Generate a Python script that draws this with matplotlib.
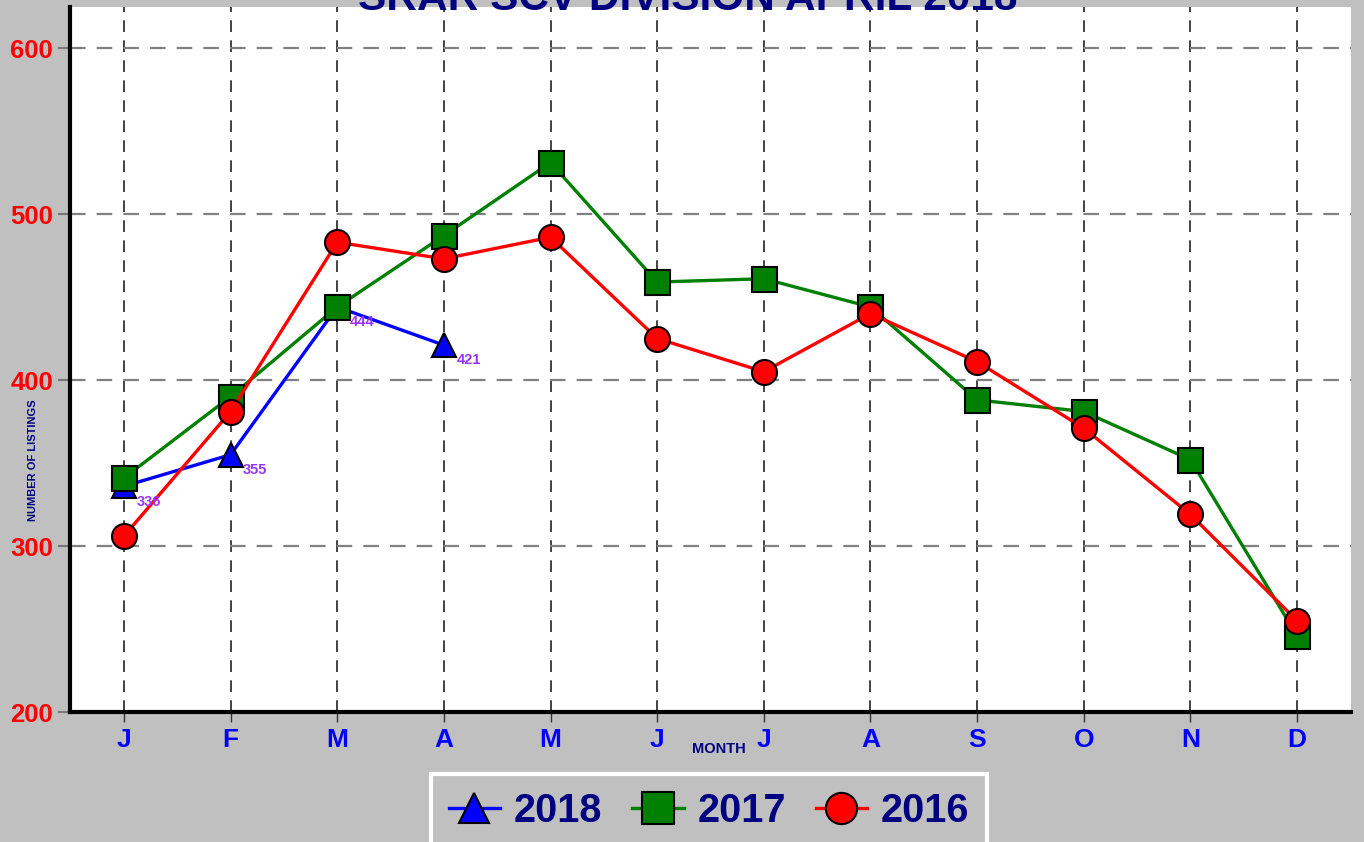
import numpy as np
import matplotlib.pyplot as plt

plt.rcParams['font.family'] = ['Liberation Sans', 'DejaVu Sans']

months = ['J', 'F', 'M', 'A', 'M', 'J', 'J', 'A', 'S', 'O', 'N', 'D']
listings_2018 = [336, 355, 444, 421]
listings_2017 = [341, 390, 444, 487, 531, 459, 461, 444, 388, 381, 352, 246]
listings_2016 = [306, 381, 483, 473, 486, 425, 405, 440, 411, 371, 319, 255]
yticks = [200, 300, 400, 500, 600]

fig = plt.figure(figsize=(13.64, 8.42), dpi=100, facecolor='#c0c0c0')
ax = fig.add_axes([70 / 1364, 1 - 712 / 842, 1281 / 1364, 705 / 842])
ax.set_facecolor('white')

x = np.arange(len(months))
ms = 18
ax.plot(x[:len(listings_2018)], listings_2018, color='#0000ff', lw=2.4, marker='^',
        ms=17.5, mfc='#0000ff', mec='black', mew=1.5, label='2018', zorder=3)
ax.plot(x, listings_2017, color='#008000', lw=2.4, marker='s',
        ms=ms, mfc='#008000', mec='black', mew=1.5, label='2017', zorder=4)
ax.plot(x, listings_2016, color='#ff0000', lw=2.4, marker='o',
        ms=ms, mfc='#ff0000', mec='black', mew=1.5, label='2016', zorder=5)

# value labels for current year
for xi, v in zip(x, listings_2018):
    ax.annotate(str(v), (xi, v), xytext=(9, -11), textcoords='offset points',
                color='#9933ff', fontsize=10.5, fontweight='bold', va='center', ha='left',
                zorder=6)

ax.set_xlim(-0.506, 11.506)
ax.set_ylim(200, 624.7)
ax.set_xticks(x)
ax.set_xticklabels(months)
ax.set_yticks(yticks)

for t in ax.get_xticklabels():
    t.set_color('#0000ff')
    t.set_fontweight('bold')
    t.set_fontsize(19)
for t in ax.get_yticklabels():
    t.set_color('#ff0000')
    t.set_fontweight('bold')
    t.set_fontsize(18.5)

ax.tick_params(axis='x', length=7.5, color='#333333', width=1, pad=4)
ax.tick_params(axis='y', length=8.6, color='#777777', width=1.5, pad=3.5)

ax.xaxis.grid(True, color='#222222', ls=(0, (7, 5)), lw=1.2)
ax.yaxis.grid(True, color='#808080', ls=(0, (7, 5)), lw=1.6)
ax.set_axisbelow(True)

for side in ['top', 'right']:
    ax.spines[side].set_visible(False)
for side in ['left', 'bottom']:
    ax.spines[side].set_linewidth(3)
    ax.spines[side].set_color('black')

# title sits mostly above the top edge, as in the source image
fig.text(688 / 1364, 1 - 10 / 842, 'SRAR SCV DIVISION APRIL 2018', ha='center', va='baseline',
         fontsize=30.5, fontweight='bold', color='#000080')
fig.text(33 / 1364, 1 - 460 / 842, 'NUMBER OF LISTINGS', rotation=90, ha='center', va='center',
         fontsize=8, fontweight='bold', color='#000080')
fig.text(719 / 1364, 1 - 749 / 842, 'MONTH', ha='center', va='center',
         fontsize=10.5, fontweight='bold', color='#000080')

leg = fig.legend(loc='upper center', bbox_to_anchor=(709 / 1364, 1 - 774 / 842), ncol=3,
                 prop={'weight': 'bold', 'size': 28.5}, facecolor='#c0c0c0',
                 edgecolor='white', framealpha=1, fancybox=False, handlelength=1.3,
                 handletextpad=0.35, columnspacing=0.75, markerscale=1.25,
                 borderpad=0.45, borderaxespad=0)
leg.get_frame().set_linewidth(3)
for t in leg.get_texts():
    t.set_color('#000080')

fig.savefig('out.png', dpi=100, facecolor=fig.get_facecolor())
